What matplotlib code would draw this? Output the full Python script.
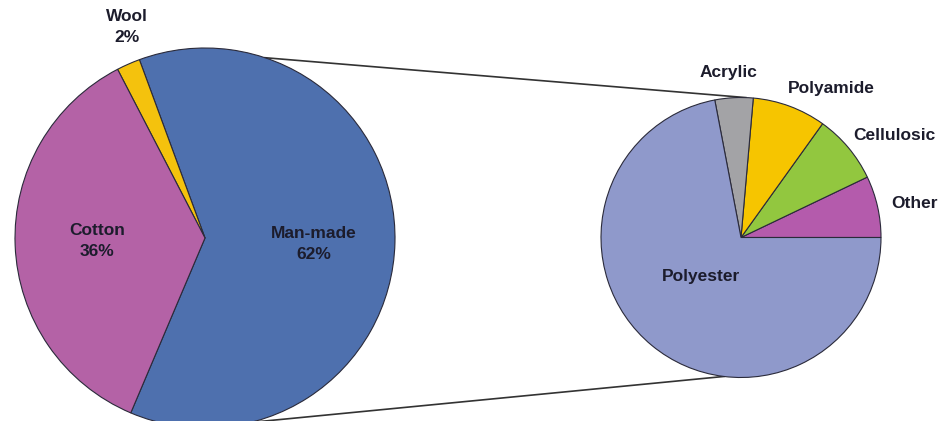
import numpy as np
import matplotlib.pyplot as plt

# main pie: fibre share
main_labels = ['Man-made', 'Wool', 'Cotton']
main_values = [62, 2, 36]
main_colors = ['#4E70AE', '#F4C20D', '#B462A6']

# breakdown of man-made fibres
sub_labels = ['Other', 'Cellulosic', 'Polyamide', 'Acrylic', 'Polyester']
sub_values = [7.1, 8.0, 8.5, 4.4, 72.0]
sub_colors = ['#B45BAC', '#92C73F', '#F6C500', '#A3A3A6', '#8F99CB']

W, H = 940, 421
fig = plt.figure(figsize=(W / 100, H / 100), dpi=100)
ax = fig.add_axes([0, 0, 1, 1])
ax.set_xlim(0, W)
ax.set_ylim(0, H)
ax.set_aspect('equal')
ax.axis('off')

# pie geometry in pixel units (y measured from the bottom)
c1, r1 = (205, H - 238), 190
c2, r2 = (741, H - 237.5), 140

wedge_kw = dict(edgecolor='#2a2a3a', linewidth=0.8)
ax.pie(main_values, colors=main_colors, center=c1, radius=r1,
       startangle=247, counterclock=True, wedgeprops=wedge_kw, frame=True)
ax.pie(sub_values, colors=sub_colors, center=c2, radius=r2,
       startangle=0, counterclock=True, wedgeprops=wedge_kw, frame=True)
ax.set_xlim(0, W)
ax.set_ylim(0, H)
ax.axis('off')

# connector lines between the two pies
def on_circle(c, r, deg):
    a = np.deg2rad(deg)
    return c[0] + r * np.cos(a), c[1] + r * np.sin(a)

for a1, a2 in [(71.6, 88), (-76, -97)]:
    p1 = on_circle(c1, r1, a1)
    p2 = on_circle(c2, r2, a2)
    ax.plot([p1[0], p2[0]], [p1[1], p2[1]], color='#333333', lw=1.2, zorder=0)

txt = dict(fontsize=12.5, fontweight='bold', family=['Liberation Sans', 'DejaVu Sans'],
           ha='center', va='center', color='#1c1c2c', linespacing=1.45)

main_pos = [(314, 244), (127, 27), (97, 241)]
for name, v, (x, y) in zip(main_labels, main_values, main_pos):
    ax.text(x, H - y, f'{name}\n{v}%', **txt)

sub_pos = [(915, 203), (894, 136), (831, 89), (729, 72), (701, 277)]
for name, (x, y) in zip(sub_labels, sub_pos):
    ax.text(x, H - y, name, **txt)

fig.savefig('out.png', dpi=100, facecolor='white')
